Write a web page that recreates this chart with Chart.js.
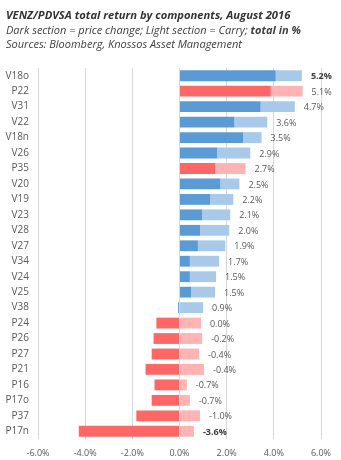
<!DOCTYPE html>
<html>
<head>
<meta charset="utf-8">
<script src="https://cdn.jsdelivr.net/npm/chart.js@4"></script>
<style>
  body { margin: 0; background: #fff; }
  #wrap { position: relative; width: 341px; height: 460px; }
  #head { position: absolute; left: 6px; top: 8px; font-family: "Open Sans", sans-serif; font-style: italic; color: #404040; font-size: 11px; line-height: 14.5px; }
  #head .t { font-weight: bold; font-size: 11.2px; color: #333; }
</style>
</head>
<body>
<div id="wrap">
  <canvas id="chart" width="341" height="460"></canvas>
  <div id="head">
    <div class="t">VENZ/PDVSA total return by components, August 2016</div>
    <div>Dark section = price change; Light section = Carry; <b>total in %</b></div>
    <div>Sources: Bloomberg, Knossos Asset Management</div>
  </div>
</div>
<script>
// bonds, top to bottom
const bonds = ["V18o", "P22", "V31", "V22", "V18n", "V26", "P35", "V20", "V19", "V23", "V28", "V27",
  "V34", "V24", "V25", "V38", "P24", "P26", "P27", "P21", "P16", "P17o", "P37", "P17n"];
// price change (%), dark section
const priceChange = [4.08, 3.87, 3.44, 2.33, 2.70, 1.60, 1.51, 1.73, 1.30, 0.96, 0.87, 0.78,
  0.44, 0.44, 0.49, -0.06, -0.98, -1.10, -1.18, -1.44, -1.06, -1.18, -1.83, -4.27];
// carry (%), light section
const carry = [1.11, 1.35, 1.45, 1.39, 0.78, 1.40, 1.29, 0.81, 0.98, 1.19, 1.24, 1.16,
  1.24, 1.11, 1.02, 1.00, 0.91, 0.96, 0.83, 1.04, 0.31, 0.44, 0.87, 0.61];
// total return labels as printed
const totals = ["5.2%", "5.1%", "4.7%", "3.6%", "3.5%", "2.9%", "2.7%", "2.5%", "2.2%", "2.1%", "2.0%", "1.9%",
  "1.7%", "1.5%", "1.5%", "0.9%", "0.0%", "-0.2%", "-0.4%", "-0.4%", "-0.7%", "-0.7%", "-1.0%", "-3.6%"];
const boldTotals = ["V18o", "P17n"];
const xTicks = [-6, -4, -2, 0, 2, 4, 6];

const FONT = "'Open Sans', sans-serif";
const isPdvsa = b => b.startsWith("P");

// total labels right of each bar
const totalLabels = {
  id: "totalLabels",
  afterDatasetsDraw(chart) {
    const ctx = chart.ctx;
    const meta = chart.getDatasetMeta(1);
    ctx.save();
    ctx.textBaseline = "middle";
    ctx.textAlign = "left";
    meta.data.forEach((bar, i) => {
      const bold = boldTotals.includes(bonds[i]);
      ctx.font = (bold ? "bold " : "") + "9px " + FONT;
      ctx.fillStyle = bold ? "#404040" : "#595959";
      ctx.fillText(totals[i], bar.x + 9, bar.y + 1);
    });
    ctx.restore();
  }
};

new Chart(document.getElementById("chart"), {
  type: "bar",
  data: {
    labels: bonds,
    datasets: [
      {
        label: "Price change",
        data: priceChange,
        backgroundColor: bonds.map(b => isPdvsa(b) ? "#FF6666" : "#5B9BD5"),
        barPercentage: 0.7,
        categoryPercentage: 1,
      },
      {
        label: "Carry",
        data: carry,
        backgroundColor: bonds.map(b => isPdvsa(b) ? "#FFB3B3" : "#A9C9EB"),
        barPercentage: 0.7,
        categoryPercentage: 1,
      },
    ],
  },
  options: {
    indexAxis: "y",
    responsive: false,
    animation: false,
    layout: { padding: { top: 68, right: 20, left: 0, bottom: 0 } },
    plugins: {
      legend: { display: false },
      tooltip: { enabled: false },
    },
    scales: {
      x: {
        stacked: true,
        min: -6,
        max: 6,
        afterBuildTicks: s => { s.ticks = xTicks.map(v => ({ value: v })); },
        ticks: {
          callback: v => v.toFixed(1) + "%",
          color: "#595959",
          font: { family: FONT, size: 9 },
          padding: 9,
        },
        grid: { color: "#D9D9D9", drawTicks: false },
        border: { display: false },
        afterFit: s => { s.height = 21; },
      },
      y: {
        stacked: true,
        ticks: {
          color: "#595959",
          font: { family: FONT, size: 10 },
          padding: 9,
        },
        grid: { display: false, drawTicks: false },
        border: { display: false },
        afterFit: s => { s.width = 38; },
      },
    },
  },
  plugins: [totalLabels],
});
</script>
</body>
</html>
